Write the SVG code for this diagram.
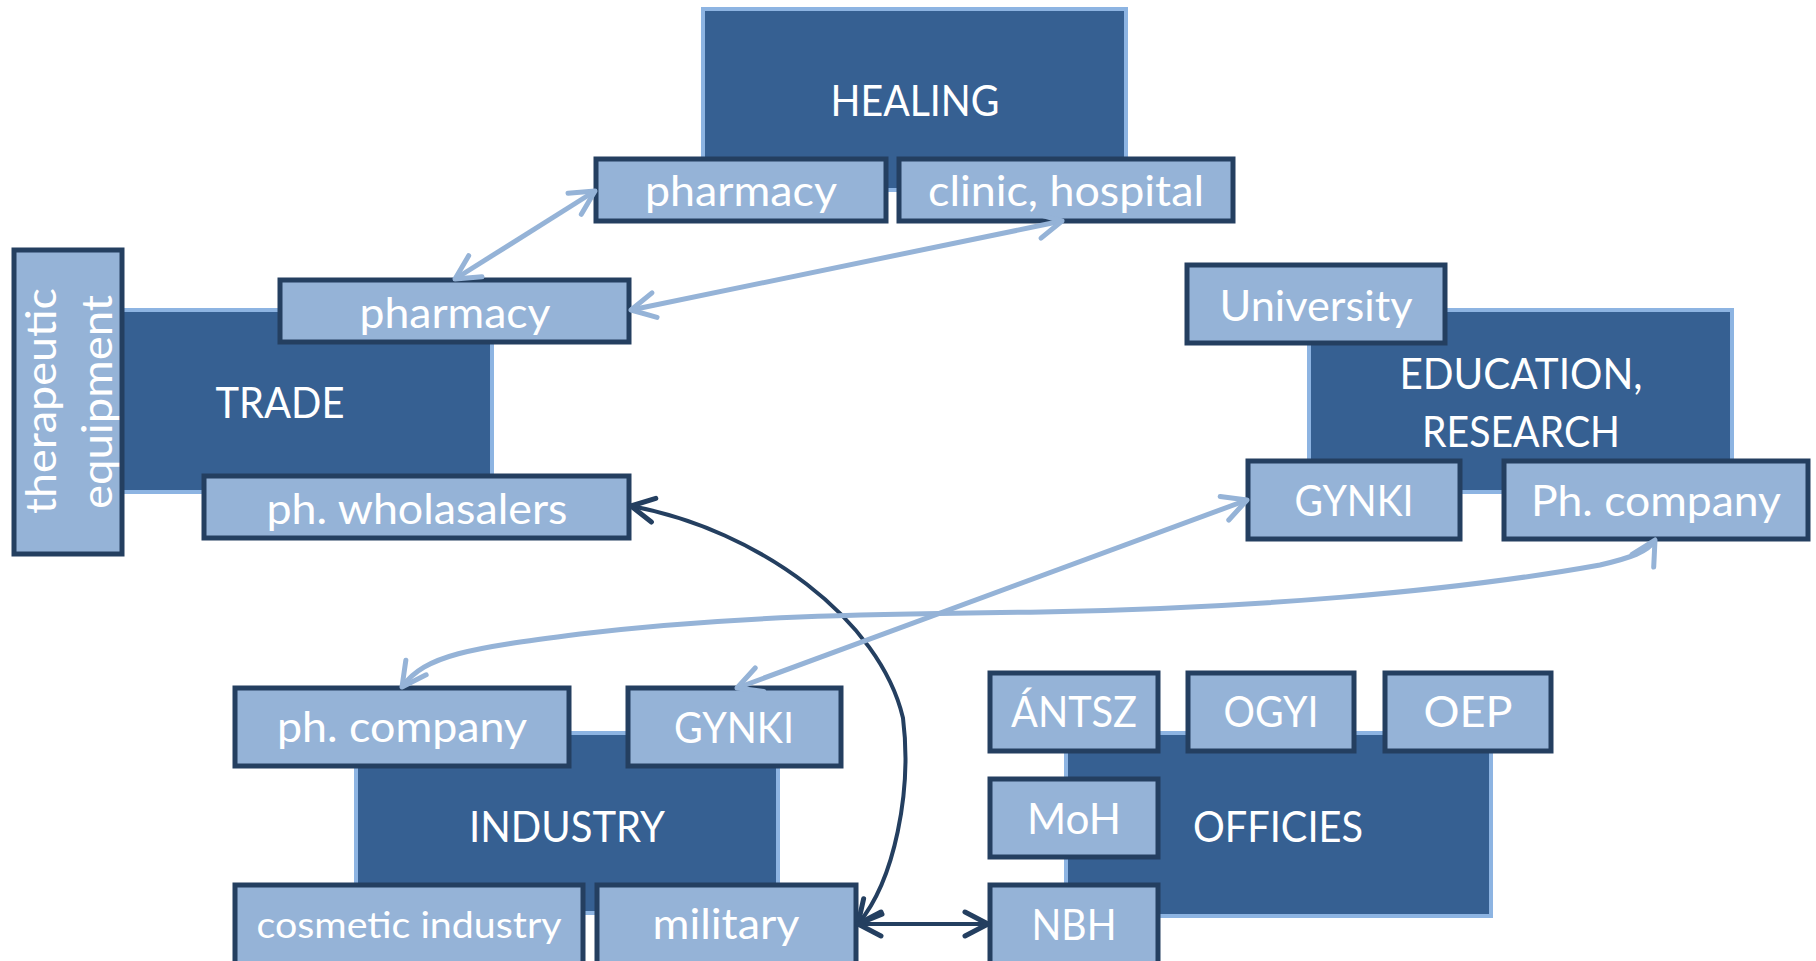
<svg xmlns="http://www.w3.org/2000/svg" width="1816" height="961" viewBox="0 0 1816 961">
<defs>
<style>
.big{fill:#366092;stroke:#8DB4E2;stroke-width:4}
.sub{fill:#95B3D7;stroke:#243F60;stroke-width:5}
text{font-family:Lato,"Open Sans","Liberation Sans",sans-serif;fill:#FFFFFF;font-size:43px;text-anchor:middle}
.small{font-size:37px}
.lt{fill:none;stroke:#95B3D7;stroke-width:5}
.dk{fill:none;stroke:#243F60;stroke-width:4}
</style>
<marker id="aL" markerUnits="userSpaceOnUse" viewBox="0 0 32 32" refX="28" refY="16" markerWidth="32" markerHeight="32" orient="auto-start-reverse">
<path d="M4,3.5 L28,16 L4,28.5" fill="none" stroke="#95B3D7" stroke-width="5" stroke-linecap="round" stroke-linejoin="round"/>
</marker>
<marker id="aD" markerUnits="userSpaceOnUse" viewBox="0 0 32 32" refX="28" refY="16" markerWidth="32" markerHeight="32" orient="auto-start-reverse">
<path d="M5,4 L28,16 L5,28" fill="none" stroke="#243F60" stroke-width="5" stroke-linecap="round" stroke-linejoin="round"/>
</marker>
</defs>
<rect width="1816" height="961" fill="#FFFFFF"/>

<g id="healing">
<rect class="big" x="703" y="9" width="423" height="181"/>
<text x="915" y="116" textLength="169" lengthAdjust="spacingAndGlyphs">HEALING</text>
</g>
<g id="healing-pharmacy">
<rect class="sub" x="596" y="159" width="290" height="62"/>
<text x="741" y="206" textLength="192" lengthAdjust="spacingAndGlyphs">pharmacy</text>
</g>
<g id="clinic-hospital">
<rect class="sub" x="899" y="159" width="334" height="62"/>
<text x="1066" y="206" textLength="276" lengthAdjust="spacingAndGlyphs">clinic, hospital</text>
</g>

<g id="trade">
<rect class="big" x="110" y="310" width="382" height="182"/>
<text x="280" y="418" textLength="129" lengthAdjust="spacingAndGlyphs">TRADE</text>
</g>
<g id="therapeutic-equipment">
<rect class="sub" x="14" y="250" width="108" height="304"/>
<text transform="translate(56,401) rotate(-90)" textLength="226" lengthAdjust="spacingAndGlyphs">therapeutic</text>
<text transform="translate(112,402) rotate(-90)" textLength="214" lengthAdjust="spacingAndGlyphs">equipment</text>
</g>
<g id="trade-pharmacy">
<rect class="sub" x="280" y="280" width="349" height="62"/>
<text x="455" y="328" textLength="191" lengthAdjust="spacingAndGlyphs">pharmacy</text>
</g>
<g id="wholasalers">
<rect class="sub" x="204" y="476" width="425" height="62"/>
<text x="417" y="524" textLength="301" lengthAdjust="spacingAndGlyphs">ph. wholasalers</text>
</g>

<g id="education">
<rect class="big" x="1309" y="310" width="423" height="182"/>
<text x="1521" y="389" textLength="243" lengthAdjust="spacingAndGlyphs">EDUCATION,</text>
<text x="1521" y="447" textLength="198" lengthAdjust="spacingAndGlyphs">RESEARCH</text>
</g>
<g id="university">
<rect class="sub" x="1187" y="265" width="258" height="78"/>
<text x="1316" y="321" textLength="193" lengthAdjust="spacingAndGlyphs">University</text>
</g>
<g id="edu-gynki">
<rect class="sub" x="1248" y="461" width="212" height="78"/>
<text x="1354" y="516" textLength="119" lengthAdjust="spacingAndGlyphs">GYNKI</text>
</g>
<g id="edu-phcompany">
<rect class="sub" x="1504" y="461" width="304" height="78"/>
<text x="1656" y="516" textLength="250" lengthAdjust="spacingAndGlyphs">Ph. company</text>
</g>

<g id="industry">
<rect class="big" x="356" y="733" width="422" height="180"/>
<text x="567" y="842" textLength="196" lengthAdjust="spacingAndGlyphs">INDUSTRY</text>
</g>
<g id="ind-phcompany">
<rect class="sub" x="235" y="688" width="334" height="78"/>
<text x="402" y="742" textLength="250" lengthAdjust="spacingAndGlyphs">ph. company</text>
</g>
<g id="ind-gynki">
<rect class="sub" x="628" y="688" width="213" height="78"/>
<text x="734" y="743" textLength="120" lengthAdjust="spacingAndGlyphs">GYNKI</text>
</g>
<g id="cosmetic">
<rect class="sub" x="235" y="885" width="348" height="82"/>
<text class="small" x="409" y="938" textLength="305" lengthAdjust="spacingAndGlyphs">cosmetic industry</text>
</g>
<g id="military">
<rect class="sub" x="597" y="885" width="259" height="82"/>
<text x="726" y="939" textLength="147" lengthAdjust="spacingAndGlyphs">military</text>
</g>

<g id="offices">
<rect class="big" x="1066" y="733" width="425" height="183"/>
<text x="1278" y="842" textLength="170" lengthAdjust="spacingAndGlyphs">OFFICIES</text>
</g>
<g id="antsz">
<rect class="sub" x="990" y="673" width="168" height="78"/>
<text x="1074" y="727" textLength="126" lengthAdjust="spacingAndGlyphs">ÁNTSZ</text>
</g>
<g id="ogyi">
<rect class="sub" x="1188" y="673" width="166" height="78"/>
<text x="1271" y="727" textLength="95" lengthAdjust="spacingAndGlyphs">OGYI</text>
</g>
<g id="oep">
<rect class="sub" x="1385" y="673" width="166" height="78"/>
<text x="1468" y="727" textLength="89" lengthAdjust="spacingAndGlyphs">OEP</text>
</g>
<g id="moh">
<rect class="sub" x="990" y="779" width="168" height="78"/>
<text x="1074" y="834" textLength="94" lengthAdjust="spacingAndGlyphs">MoH</text>
</g>
<g id="nbh">
<rect class="sub" x="990" y="885" width="168" height="82"/>
<text x="1074" y="940" textLength="85" lengthAdjust="spacingAndGlyphs">NBH</text>
</g>

<g id="connectors">
<path class="dk" d="M631,506 C760,530 880,620 903,718 C912,790 895,880 858,924" marker-start="url(#aD)" marker-end="url(#aD)"/>
<line class="dk" x1="858" y1="924" x2="988" y2="924" stroke-width="4.5" marker-start="url(#aD)" marker-end="url(#aD)"/>
<line class="lt" x1="595" y1="191" x2="455" y2="279" marker-start="url(#aL)" marker-end="url(#aL)"/>
<line class="lt" x1="1062" y1="221" x2="631" y2="310" marker-start="url(#aL)" marker-end="url(#aL)"/>
<line class="lt" x1="1247" y1="500" x2="737" y2="688" marker-start="url(#aL)" marker-end="url(#aL)"/>
<path class="lt" d="M402,687 C425,655 470,648 580,634 C750,614 900,614 1042,612 C1250,608 1450,592 1600,565 C1630,558 1648,552 1655,540" marker-start="url(#aL)" marker-end="url(#aL)"/>
</g>
</svg>
